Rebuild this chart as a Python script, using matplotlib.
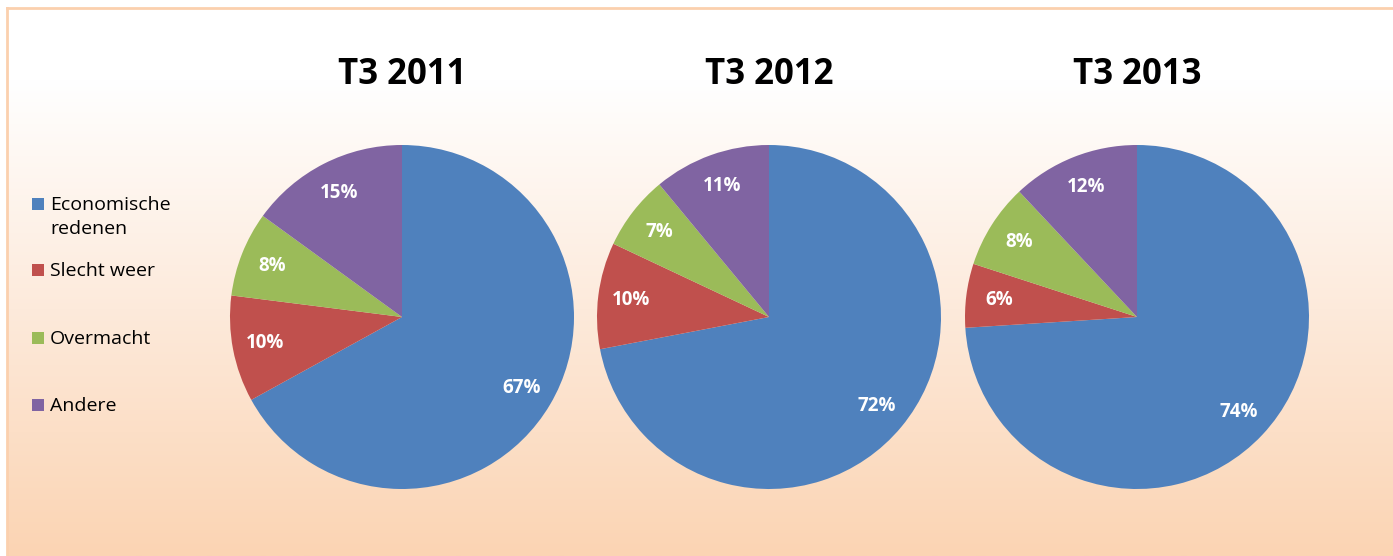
import numpy as np
import matplotlib
matplotlib.use("Agg")
import matplotlib.pyplot as plt
from matplotlib.colors import LinearSegmentedColormap
from matplotlib.patches import Rectangle

# ---- data ----
categories = ["Economische\nredenen", "Slecht weer", "Overmacht", "Andere"]
titles = ["T3 2011", "T3 2012", "T3 2013"]
values_2011 = [67, 10, 8, 15]
values_2012 = [72, 10, 7, 11]
values_2013 = [74, 6, 8, 12]
series = [values_2011, values_2012, values_2013]
colors = ["#4F81BD", "#C0504D", "#9BBB59", "#8064A2"]

W, H = 1393, 556
fig = plt.figure(figsize=(W / 100, H / 100), dpi=100)
fig.patch.set_facecolor("white")

# ---- gradient background panel ----
px0, py0 = 7, 8  # left / top offsets in pixels
ax_bg = fig.add_axes([px0 / W, 0, 1 - px0 / W, (H - py0) / H])
cmap = LinearSegmentedColormap.from_list(
    "bg", [(0.0, "#FFFFFF"), (0.13, "#FFFFFF"), (0.55, "#FDEADB"), (1.0, "#FBD4B3")])
grad = np.linspace(0, 1, 256).reshape(-1, 1)
ax_bg.imshow(grad, aspect="auto", cmap=cmap, extent=[0, 1, 1, 0])
ax_bg.set_xlim(0, 1)
ax_bg.set_ylim(1, 0)
ax_bg.set_xticks([])
ax_bg.set_yticks([])
for s in ["right", "bottom"]:
    ax_bg.spines[s].set_visible(False)
for s in ["top", "left"]:
    ax_bg.spines[s].set_color("#FBD0AE")
    ax_bg.spines[s].set_linewidth(2)
ax_bg.set_zorder(-5)

# ---- pies ----
centers_x = [402, 769, 1137]
cy = 317
r = 172
for cx, vals, title in zip(centers_x, series, titles):
    ax = fig.add_axes([(cx - r) / W, (H - cy - r) / H, 2 * r / W, 2 * r / H])
    ax.set_facecolor("none")
    wedges, texts, autotexts = ax.pie(
        vals, colors=colors, startangle=90, counterclock=False,
        autopct="%1.0f%%", pctdistance=0.81, radius=1,
        wedgeprops=dict(linewidth=0))
    for t in autotexts:
        t.set_color("white")
        t.set_fontweight("bold")
        t.set_fontsize(13.5)
        t.set_fontfamily("Open Sans")
    ax.set_xlim(-1, 1)
    ax.set_ylim(-1, 1)
    ax.set_aspect("equal")
    ax.axis("off")
    fig.text(cx / W, 1 - 75 / H, title, ha="center", va="center",
             fontsize=25, fontweight="bold", family="Open Sans", color="black")

# ---- legend (manual) ----
legend_y = [204, 270, 338, 405]
for cat, col, ly in zip(categories, colors, legend_y):
    fig.patches.append(Rectangle((32 / W, 1 - (ly + 6) / H), 12 / W, 12 / H,
                                 transform=fig.transFigure, facecolor=col,
                                 edgecolor="none"))
    fig.text(50 / W, 1 - (ly - 8) / H, cat, ha="left", va="top",
             fontsize=14, family="Open Sans", color="black", linespacing=1.45)

fig.savefig("out.png", dpi=100)
